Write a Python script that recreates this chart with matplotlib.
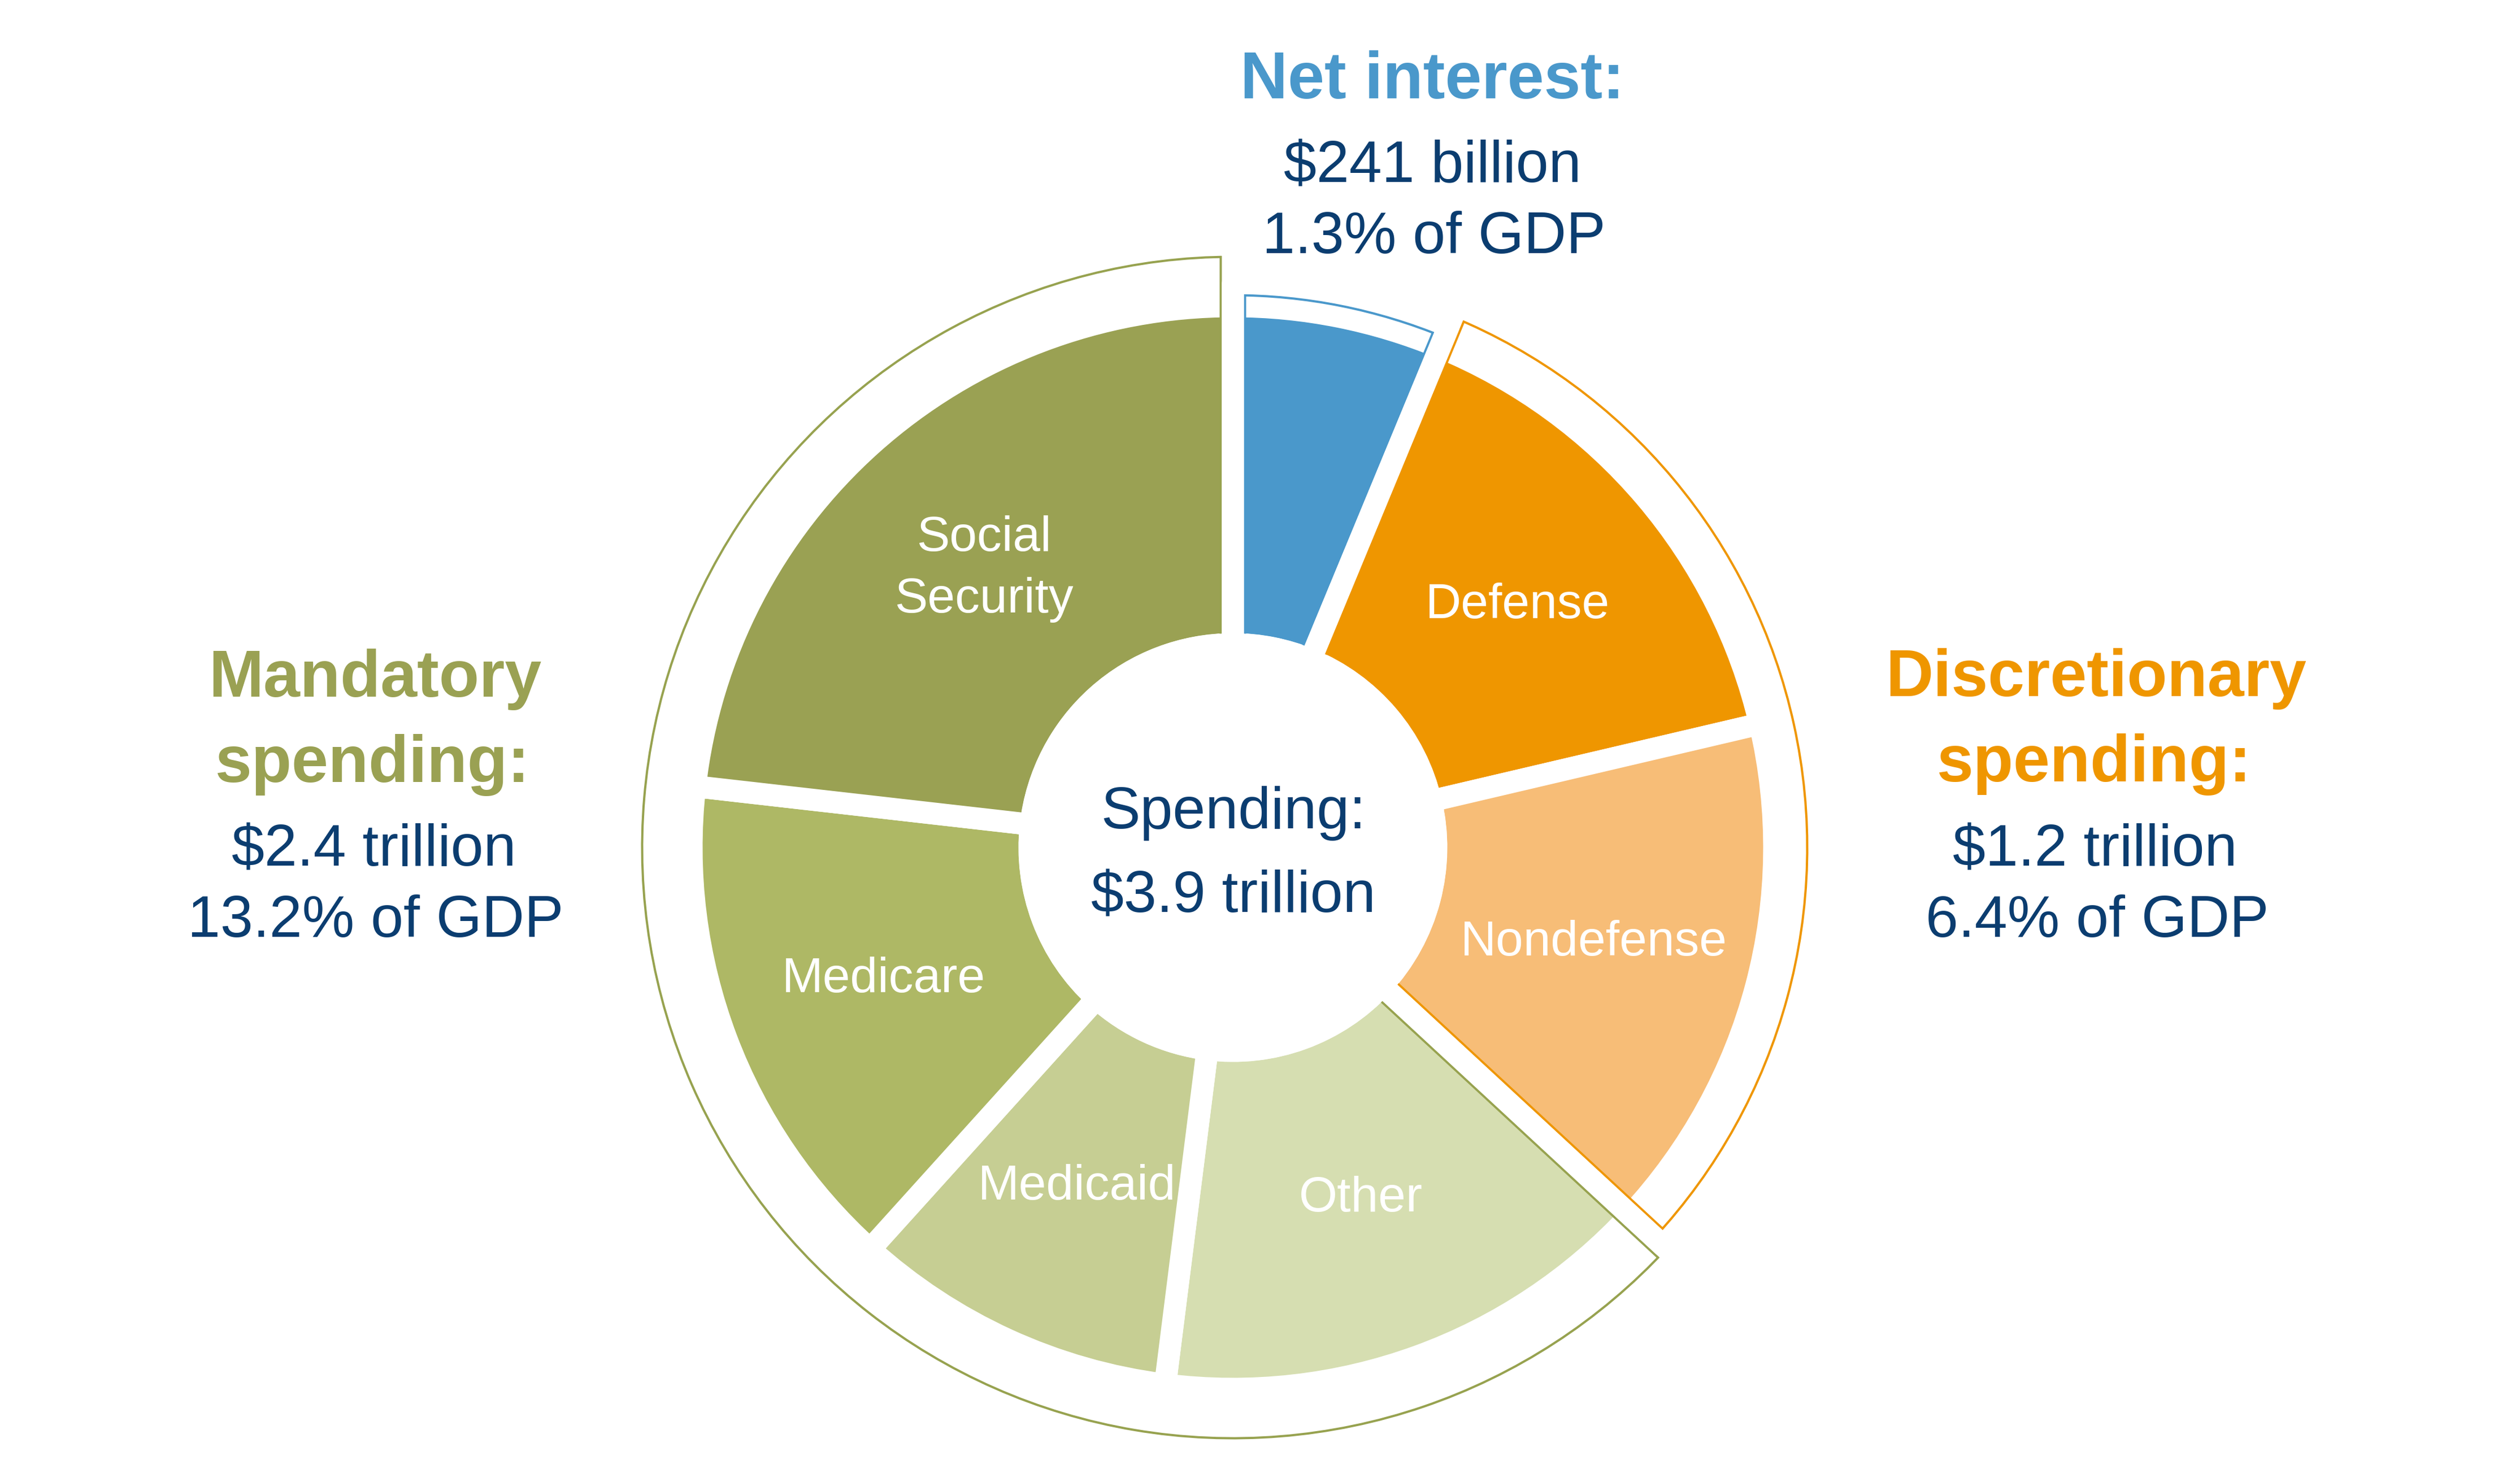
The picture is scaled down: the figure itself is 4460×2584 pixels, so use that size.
import matplotlib
matplotlib.use('Agg')
import matplotlib.pyplot as plt
from matplotlib.patches import Circle

plt.rcParams['font.family'] = ['Liberation Sans', 'DejaVu Sans']

# federal spending, billions of dollars (clockwise from the top)
categories = ['Net interest', 'Defense', 'Nondefense', 'Other', 'Medicaid', 'Medicare', 'Social Security']
slice_labels = ['', 'Defense', 'Nondefense', 'Other', 'Medicaid', 'Medicare', 'Social\nSecurity']
values = [241, 582, 600, 583, 374, 583, 895]
slice_colors = ['#4A98CB', '#EF9600', '#F7BD77', '#D6DEB1', '#C6CE93', '#AEB865', '#9AA153']

# groups of consecutive slices
groups = ['Net interest', 'Discretionary', 'Mandatory']
group_sizes = [1, 2, 4]
group_colors = ['#4A98CB', '#EF9600', '#97A24F']
group_titles = [['Net interest:'], ['Discretionary', 'spending:'], ['Mandatory', 'spending:']]
group_amounts = ['$241 billion', '$1.2 trillion', '$2.4 trillion']
group_gdp = ['1.3% of GDP', '6.4% of GDP', '13.2% of GDP']
center_lines = ['Spending:', '$3.9 trillion']

navy = '#0B3D70'

group_values = []
i = 0
for n in group_sizes:
    group_values.append(sum(values[i:i + n]))
    i += n

W, H = 4460, 2584
fig = plt.figure(figsize=(W / 100, H / 100), dpi=100)
ax = fig.add_axes([0, 0, 1, 1])

# axes in pixel units, y from the bottom
cx, cy = 2182, H - 1500
R = 958          # slice radius
r_hole = 360     # hole radius
gap = 39         # white gap between slices, px
line = 4         # outline width of the group rings, px
pt = 0.72        # px -> points at dpi 100
ring_r = [999, 1038, 1067]

wedges, texts = ax.pie(values, labels=slice_labels, colors=slice_colors, radius=R,
                       center=(cx, cy), startangle=90, counterclock=False,
                       labeldistance=0.69,
                       wedgeprops=dict(width=R - r_hole, edgecolor='white', linewidth=gap * pt),
                       textprops=dict(color='white', fontsize=63, ha='center', va='center',
                                      linespacing=1.45))
for w in wedges:
    w.set_zorder(1)

# group rings: stroke clipped to the wedge itself, then a plain white stroke on top
# leaves a thin coloured line running along the outer slices' edges
rings, _ = ax.pie(group_values, radius=R, center=(cx, cy), startangle=90, counterclock=False,
                  wedgeprops=dict(fill=False, linewidth=(gap + 2 * line) * pt))
covers, _ = ax.pie(group_values, radius=R, center=(cx, cy), startangle=90, counterclock=False,
                   wedgeprops=dict(fill=False, edgecolor='white', linewidth=gap * pt,
                                   joinstyle='round'))
for w, c_, r in zip(rings, group_colors, ring_r):
    w.set_radius(r)
    w.set_width(r - 200)
    w.set_edgecolor(c_)
    w.set_clip_on(True)
    w.set_clip_path(w)
    w.set_zorder(2)
for w, r in zip(covers, ring_r):
    w.set_radius(r)
    w.set_width(r - 200)
    w.set_zorder(3)

ax.add_patch(Circle((cx, cy), r_hole + gap / 2 - 1, color='white', zorder=4))

ax.set_xlim(0, W)
ax.set_ylim(0, H)
ax.axis('off')


def put(x, y, s, **kw):
    ax.text(x, H - y, s, ha='center', va='baseline', zorder=5, **kw)


# centre
put(2183, 1466, center_lines[0], color=navy, fontsize=75)
put(2183, 1615, center_lines[1], color=navy, fontsize=75)

# net interest, top
put(2535, 174, group_titles[0][0], color=group_colors[0], fontsize=84, fontweight='bold')
put(2535, 323, group_amounts[0], color=navy, fontsize=75)
put(2538, 448, group_gdp[0], color=navy, fontsize=75)

# discretionary, right
put(3710, 1232, group_titles[1][0], color=group_colors[1], fontsize=84, fontweight='bold')
put(3706, 1383, group_titles[1][1], color=group_colors[1], fontsize=84, fontweight='bold')
put(3708, 1532, group_amounts[1], color=navy, fontsize=75)
put(3712, 1658, group_gdp[1], color=navy, fontsize=75)

# mandatory, left
put(664, 1233, group_titles[2][0], color='#9AA153', fontsize=84, fontweight='bold')
put(659, 1384, group_titles[2][1], color='#9AA153', fontsize=84, fontweight='bold')
put(662, 1533, group_amounts[2], color=navy, fontsize=75)
put(665, 1658, group_gdp[2], color=navy, fontsize=75)

fig.savefig('out.png', dpi=100, facecolor='white')
